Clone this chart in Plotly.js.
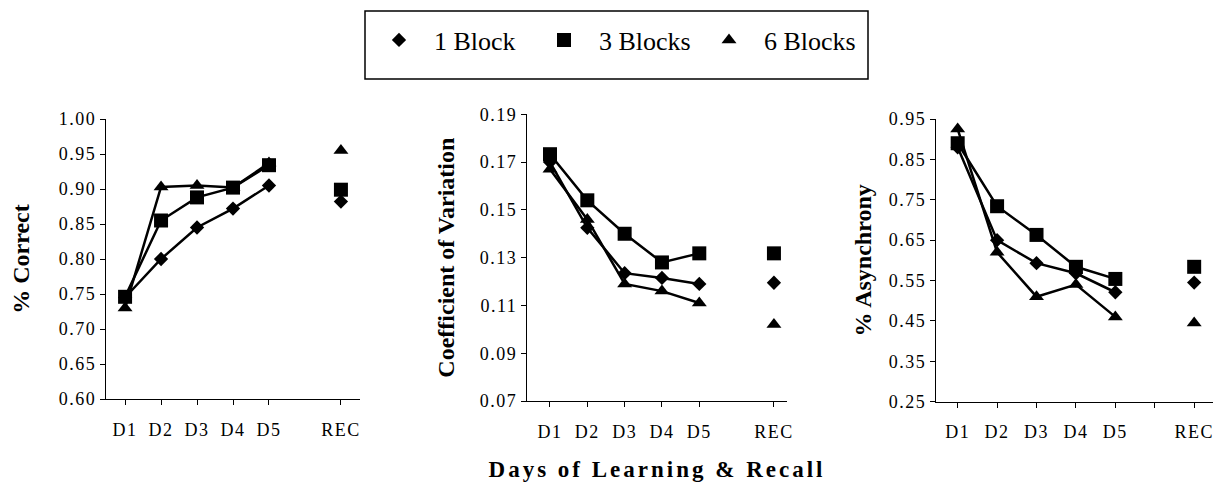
<!DOCTYPE html>
<html>
<head>
<meta charset="utf-8">
<script src="https://cdn.plot.ly/plotly-3.0.1.min.js"></script>
<style>
  html, body { margin: 0; padding: 0; background: #fff; }
  #chart { width: 1230px; height: 484px; }
  g[class$="tick"] text { letter-spacing: 1.5px; }
  text.x2title { letter-spacing: 3px; }
</style>
</head>
<body>
<div id="chart"></div>
<script>
// ---- data ----
const days = ['D1', 'D2', 'D3', 'D4', 'D5', 'REC'];
const slots = ['D1', 'D2', 'D3', 'D4', 'D5', ' ', 'REC'];
const seriesNames = ['1 Block', '3 Blocks', '6 Blocks'];

const correct1 = [0.745, 0.800, 0.845, 0.872, 0.905, 0.882];
const correct3 = [0.746, 0.855, 0.888, 0.902, 0.934, 0.899];
const correct6 = [0.730, 0.903, 0.905, 0.902, 0.937, 0.955];

const cv1 = [0.170, 0.1425, 0.1235, 0.1215, 0.119, 0.1195];
const cv3 = [0.1733, 0.154, 0.140, 0.128, 0.1318, 0.1318];
const cv6 = [0.167, 0.146, 0.119, 0.116, 0.111, 0.102];

const async1 = [0.880, 0.650, 0.593, 0.568, 0.521, 0.545];
const async3 = [0.890, 0.734, 0.663, 0.584, 0.554, 0.584];
const async6 = [0.925, 0.620, 0.510, 0.540, 0.460, 0.445];

const yTitles = ['% Correct', 'Coefficient of Variation', '% Asynchrony'];
const xTitle = 'Days of Learning & Recall';

// ---- styling ----
const FONT = 'Liberation Serif';
const symbols = ['diamond', 'square', 'triangle-up'];
const sizes = [11, 14, 13];

const panels = [
  { ax: '', data: [correct1, correct3, correct6] },
  { ax: '2', data: [cv1, cv3, cv6] },
  { ax: '3', data: [async1, async3, async6] }
];

const nDays = 5; // D1..D5 joined by lines, REC shown apart
const traces = [];
panels.forEach((p, pi) => {
  p.data.forEach((vals, si) => {
    traces.push({
      type: 'scatter', mode: 'lines+markers',
      x: days.slice(0, nDays), y: vals.slice(0, nDays),
      name: seriesNames[si], legendgroup: seriesNames[si], showlegend: false,
      xaxis: 'x' + p.ax, yaxis: 'y' + p.ax,
      line: { color: '#000', width: 2.5 },
      marker: { symbol: symbols[si], size: sizes[si], color: '#000' },
      cliponaxis: false
    });
    traces.push({
      type: 'scatter', mode: 'markers',
      x: days.slice(nDays), y: vals.slice(nDays),
      name: seriesNames[si], legendgroup: seriesNames[si], showlegend: pi === 0,
      legendrank: si + 1,
      xaxis: 'x' + p.ax, yaxis: 'y' + p.ax,
      marker: { symbol: symbols[si], size: sizes[si], color: '#000' },
      cliponaxis: false
    });
  });
});

const W = 1230, H = 484;
const px = v => v / W;
const py = v => 1 - v / H;

function xaxis(dom, range, tickvals, title) {
  const a = {
    domain: dom, range: range, type: 'category',
    categoryorder: 'array', categoryarray: slots,
    tickmode: 'array', tickvals: tickvals, ticktext: tickvals,
    showline: true, linecolor: '#000', linewidth: 1.2,
    ticks: 'outside', ticklen: 5, tickwidth: 1.2, tickcolor: '#000',
    ticklabelstandoff: 9,
    showgrid: false, zeroline: false,
    tickfont: { family: FONT, size: 18, color: '#000' },
    fixedrange: true
  };
  if (title) {
    a.title = { text: title, font: { family: FONT, size: 23, color: '#000', weight: 'bold' }, standoff: 20 };
  }
  return a;
}
function yaxis(dom, range, dtick, title, standoff) {
  return {
    domain: dom, range: range, tick0: range[0], dtick: dtick, tickformat: '.2f',
    showline: true, linecolor: '#000', linewidth: 1.2,
    ticks: 'outside', ticklen: 5, tickwidth: 1.2, tickcolor: '#000',
    showgrid: false, zeroline: false,
    tickfont: { family: FONT, size: 18, color: '#000' },
    title: { text: title, font: { family: FONT, size: 24, color: '#000', weight: 'bold' }, standoff: standoff },
    fixedrange: true
  };
}

const layout = {
  width: W, height: H,
  margin: { l: 0, r: 0, t: 0, b: 0 },
  paper_bgcolor: '#fff', plot_bgcolor: '#fff',
  font: { family: FONT, color: '#000' },
  showlegend: true,
  legend: {
    orientation: 'h', x: px(364), xanchor: 'left', y: py(40), yanchor: 'middle',
    font: { family: FONT, size: 26, color: '#000' },
    bgcolor: 'rgba(0,0,0,0)', borderwidth: 0,
    itemwidth: 60, entrywidth: 90, itemclick: false, itemdoubleclick: false
  },
  shapes: [{
    type: 'rect', xref: 'paper', yref: 'paper',
    x0: px(365), x1: px(868), y0: py(79), y1: py(11),
    line: { color: '#000', width: 1.5 }, fillcolor: 'rgba(0,0,0,0)'
  }],
  xaxis: xaxis([px(106), px(360)], [-0.53, 6.53], days, null),
  yaxis: yaxis([py(399), py(119)], [0.6, 1.0], 0.05, yTitles[0], 22),
  xaxis2: xaxis([px(527), px(787)], [-0.616, 6.35], days, xTitle),
  yaxis2: yaxis([py(401), py(114.3)], [0.07, 0.19], 0.02, yTitles[1], 18),
  xaxis3: xaxis([px(936), px(1212.7)], [-0.55, 6.47], slots, null),
  yaxis3: yaxis([py(401.7), py(119)], [0.25, 0.95], 0.1, yTitles[2], 10)
};
layout.xaxis.anchor = 'y'; layout.yaxis.anchor = 'x';
layout.xaxis2.anchor = 'y2'; layout.yaxis2.anchor = 'x2';
layout.xaxis3.anchor = 'y3'; layout.yaxis3.anchor = 'x3';

Plotly.newPlot('chart', traces, layout, { displayModeBar: false, responsive: false });
</script>
</body>
</html>
